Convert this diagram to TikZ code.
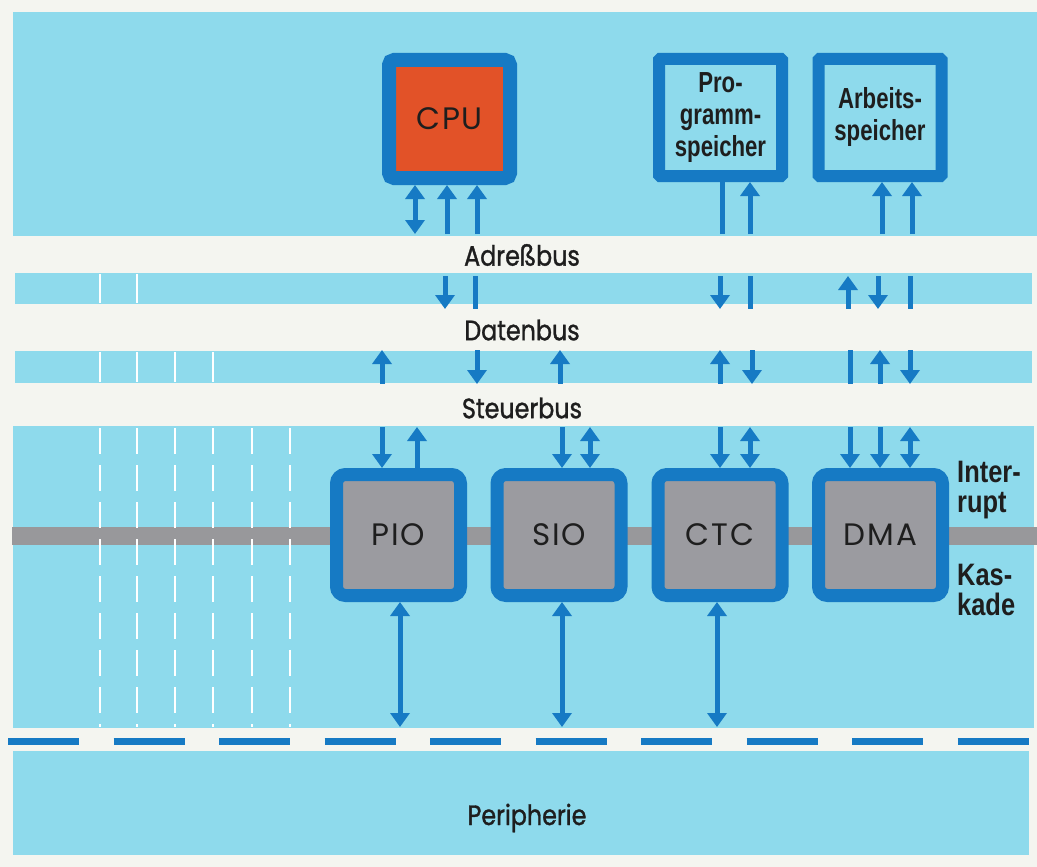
\documentclass[tikz,border=0pt]{standalone}
\usepackage{fontspec}
\setmainfont{Poppins}
\newfontfamily\labfont{Poppins}[FakeStretch=0.85,FakeBold=1.2]
\newfontfamily\chipfont{Poppins}[LetterSpace=6]
\newfontfamily\condfont{Liberation Sans}[FakeStretch=0.765]
\newfontfamily\sidefont{Liberation Sans}[FakeStretch=0.82]
\usetikzlibrary{arrows.meta}
\definecolor{bgw}{RGB}{244,245,240}
\definecolor{lblue}{RGB}{142,218,236}
\definecolor{dblue}{RGB}{22,122,196}
\definecolor{cpured}{RGB}{226,82,40}
\definecolor{chipgrey}{RGB}{155,155,160}
\definecolor{bargrey}{RGB}{152,152,155}
\definecolor{txt}{RGB}{30,30,30}
\tikzset{
  >={Triangle[width=19pt,length=14pt]},
  bus/.style={draw=dblue,line width=5pt},
  cpubox/.style={draw=dblue,line width=14pt,fill=cpured,rounded corners=5pt,
    minimum width=121pt,minimum height=118pt,inner sep=0pt,outer sep=7pt,
    font=\chipfont\fontsize{31}{31}\selectfont,text=txt},
  membox/.style={draw=dblue,line width=12pt,fill=lblue,rounded corners=1pt,
    minimum width=123pt,minimum height=117pt,inner sep=0pt,outer sep=6pt,align=center,
    font=\condfont\bfseries\fontsize{29}{32}\selectfont,text=txt},
  iobox/.style={draw=dblue,line width=13pt,fill=chipgrey,rounded corners=9pt,
    minimum width=124pt,minimum height=121pt,inner sep=0pt,outer sep=6.5pt,
    font=\chipfont\fontsize{31}{31}\selectfont,text=txt},
  buslabel/.style={font=\labfont\fontsize{28}{28}\selectfont,text=txt,inner sep=0pt},
  sidelabel/.style={font=\sidefont\bfseries\fontsize{31}{30}\selectfont,text=txt,
    align=left,anchor=west,inner sep=0pt},
  leftdash/.style={white,line width=2pt,dash pattern=on 26pt off 11pt},
}
\begin{document}
\begin{tikzpicture}[x=1pt,y=-1pt]
\fill[bgw] (0,0) rectangle (1037,867);
\useasboundingbox (0,0) rectangle (1037,867);
% panels
\fill[lblue] (13,12) rectangle (1037,236);
\fill[lblue] (15,273) rectangle (1032,304);
\fill[lblue] (15,351) rectangle (1032,383);
\fill[lblue] (13,426) rectangle (1034,728);
\fill[lblue] (13,751) rectangle (1029,855);
\fill[bargrey] (12,527) rectangle (1037,545);
% left white dashes
\foreach \x in {100,137} \draw[white,line width=2pt] (\x,274) -- (\x,303);
\foreach \x in {100,137,175,213} \draw[white,line width=2pt] (\x,352) -- (\x,382);
\foreach \x in {100,137,175,213,252,290} \draw[leftdash] (\x,428) -- (\x,727);
% peripheral dashed line
\draw[dblue,line width=7pt,dash pattern=on 71pt off 34.5pt] (8,741) -- (1037,741);
% nodes
\node[cpubox] (cpu) at (449.5,119) {CPU};
\node[membox] (prog) at (720.5,117.5) {Pro-\\gramm-\\speicher};
\node[membox] (arb) at (880,117.5) {Arbeits-\\speicher};
\node[iobox] (pio) at (398.5,535) {PIO};
\node[iobox] (sio) at (559,535) {SIO};
\node[iobox] (ctc) at (720,535) {CTC};
\node[iobox] (dma) at (880.5,535) {DMA};
% labels
\node[buslabel] (adr) at (522,255) {Adreßbus};
\node[buslabel] (dat) at (522,330) {Datenbus};
\node[buslabel] (steu) at (522,408) {Steuerbus};
\node[buslabel] (peri) at (527,818) {Peripherie};
\node[sidelabel] (intr) at (957,490) {Inter-\\rupt};
\node[sidelabel] (kask) at (957,590) {Kas-\\kade};
% arrows below CPU and memories
\foreach \x/\ar/\nd in {415/<->/cpu,447/->/cpu,477/->/cpu,722/-/prog,750/->/prog,882/->/arb,912/->/arb} {
  \coordinate (t\x) at (\x,234);
  \draw[bus,arrows/.expanded=\ar] (t\x) -- (\nd.south -| t\x);
}
% stripe 1
\foreach \x/\ar in {445/->,475/-,720/->,750/-,848/<-,878/->,910/-} {
  \coordinate (p\x) at (\x,276);
  \coordinate (q\x) at (\x,309);
  \draw[bus,arrows/.expanded=\ar] (p\x) -- (q\x);
}
% stripe 2
\foreach \x/\ar in {382/<-,477/->,560/<-,720/<-,752/->,850/-,880/<-,910/->} {
  \coordinate (r\x) at (\x,350);
  \coordinate (s\x) at (\x,384);
  \draw[bus,arrows/.expanded=\ar] (r\x) -- (s\x);
}
% arrows above IO chips
\foreach \x/\ar/\nd in {382/->/pio,417/<-/pio,562/->/sio,590/<->/sio,720/->/ctc,750/<->/ctc,850/->/dma,880/->/dma,910/<->/dma} {
  \coordinate (u\x) at (\x,427);
  \draw[bus,arrows/.expanded=\ar] (u\x) -- (\nd.north -| u\x);
}
% arrows to periphery
\foreach \x/\nd in {400/pio,562/sio,717/ctc} {
  \coordinate (w\x) at (\x,727);
  \draw[bus,<->] (\nd.south -| w\x) -- (w\x);
}
\end{tikzpicture}
\end{document}
